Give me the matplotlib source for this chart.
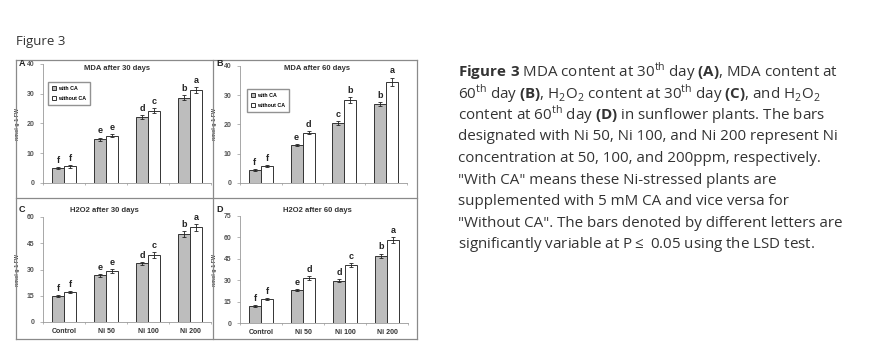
import matplotlib.pyplot as plt
import numpy as np
from matplotlib.lines import Line2D

plt.rcParams['font.family'] = ['Liberation Sans', 'DejaVu Sans']
plt.rcParams['mathtext.fontset'] = 'custom'
plt.rcParams['mathtext.rm'] = 'Open Sans'
plt.rcParams['mathtext.bf'] = 'Open Sans:bold'

categories = ['Control', 'Ni 50', 'Ni 100', 'Ni 200']

# panel A - MDA 30 days
a_with = [5.0, 14.7, 22.1, 28.7]
a_without = [5.6, 15.9, 24.3, 31.3]
a_err_with = [0.3, 0.5, 0.6, 0.9]
a_err_without = [0.4, 0.5, 0.9, 1.0]
a_let_with = ['f', 'e', 'd', 'b']
a_let_without = ['f', 'e', 'c', 'a']

# panel B - MDA 60 days
b_with = [4.5, 12.9, 20.5, 27.0]
b_without = [5.8, 17.2, 28.4, 34.5]
b_err_with = [0.3, 0.4, 0.7, 0.7]
b_err_without = [0.3, 0.6, 1.0, 1.5]
b_let_with = ['f', 'e', 'c', 'b']
b_let_without = ['f', 'd', 'b', 'a']

# panel C - H2O2 30 days
c_with = [15.0, 26.7, 33.5, 50.3]
c_without = [17.0, 29.3, 38.3, 54.0]
c_err_with = [0.5, 0.8, 0.8, 1.5]
c_err_without = [0.6, 1.2, 1.5, 2.0]
c_let_with = ['f', 'e', 'd', 'b']
c_let_without = ['f', 'e', 'c', 'a']

# panel D - H2O2 60 days
d_with = [12.0, 23.3, 29.5, 47.2]
d_without = [16.8, 31.3, 40.8, 58.2]
d_err_with = [0.5, 0.6, 1.0, 1.5]
d_err_without = [0.6, 1.3, 1.5, 2.0]
d_let_with = ['f', 'e', 'd', 'b']
d_let_without = ['f', 'd', 'c', 'a']

caption = [
    r'$\mathbf{Figure\ 3}$ MDA content at 30$^{\mathrm{th}}$ day $\mathbf{(A)}$, MDA content at',
    r'60$^{\mathrm{th}}$ day $\mathbf{(B)}$, H$_{2}$O$_{2}$ content at 30$^{\mathrm{th}}$ day $\mathbf{(C)}$, and H$_{2}$O$_{2}$',
    r'content at 60$^{\mathrm{th}}$ day $\mathbf{(D)}$ in sunflower plants. The bars',
    'designated with Ni 50, Ni 100, and Ni 200 represent Ni',
    'concentration at 50, 100, and 200ppm, respectively.',
    '"With CA" means these Ni-stressed plants are',
    'supplemented with 5 mM CA and vice versa for',
    '"Without CA". The bars denoted by different letters are',
    r'significantly variable at P$\leq$ 0.05 using the LSD test.',
]

W, H = 870, 357
fig = plt.figure(figsize=(W / 100, H / 100), dpi=100)


def fx(x):
    return x / W


def fy(y):
    return 1 - y / H


def panel(rect, wv, wov, ew, ewo, lw, lwo, ymax, yticks, title, title_xy,
          letter, letter_xy, xlabels, legend_rect):
    left, top, right, bottom = rect
    ax = fig.add_axes([fx(left), fy(bottom), fx(right - left), fy(top) - fy(bottom)])
    x = np.arange(len(categories))
    bw = 0.29
    ax.bar(x - bw / 2, wv, bw, color='#bdbdbd', edgecolor='#333333', linewidth=0.7,
           label='with CA', zorder=2)
    ax.bar(x + bw / 2, wov, bw, color='white', edgecolor='#333333', linewidth=0.7,
           label='without CA', zorder=2)
    ax.errorbar(x - bw / 2, wv, yerr=ew, fmt='none', ecolor='#222222', elinewidth=0.6,
                capsize=1.5, capthick=0.6, zorder=3)
    ax.errorbar(x + bw / 2, wov, yerr=ewo, fmt='none', ecolor='#222222', elinewidth=0.6,
                capsize=1.5, capthick=0.6, zorder=3)
    off = ymax * 0.02
    for i in range(len(x)):
        ax.text(x[i] - bw / 2, wv[i] + ew[i] + off, lw[i], ha='center', va='bottom',
                fontsize=6.5, fontweight='bold', color='#222222')
        ax.text(x[i] + bw / 2, wov[i] + ewo[i] + off, lwo[i], ha='center', va='bottom',
                fontsize=6.5, fontweight='bold', color='#222222')
    ax.set_xlim(-0.5, 3.5)
    ax.set_ylim(0, ymax)
    ax.set_yticks(yticks)
    ax.set_yticklabels([str(t) for t in yticks], fontsize=5, fontweight='bold', color='#555555')
    ax.set_xticks([-0.5, 0.5, 1.5, 2.5, 3.5], minor=True)
    ax.set_xticks(x)
    if xlabels:
        ax.set_xticklabels(categories, fontsize=5, fontweight='bold', color='#333333')
    else:
        ax.set_xticklabels([])
    ax.tick_params(axis='x', which='major', length=0, pad=4)
    ax.tick_params(axis='x', which='minor', length=1.5, width=0.5, color='#999999')
    ax.tick_params(axis='y', length=2, width=0.5, color='#999999', pad=4)
    for s in ['top', 'right']:
        ax.spines[s].set_visible(False)
    ax.spines['left'].set_color('#999999')
    ax.spines['bottom'].set_color('#999999')
    ax.spines['left'].set_linewidth(0.6)
    ax.spines['bottom'].set_linewidth(0.6)
    ax.set_ylabel('nmol g-1 FW', fontsize=3.8, fontweight='bold', color='#444444', labelpad=5)
    fig.text(fx(title_xy[0]), fy(title_xy[1]), title, ha='center', va='center',
             fontsize=5.5, fontweight='bold', color='#333333')
    fig.text(fx(letter_xy[0]), fy(letter_xy[1]), letter, ha='left', va='center',
             fontsize=6.5, fontweight='bold', color='#222222')
    if legend_rect is not None:
        ax.legend(loc='upper left', bbox_to_anchor=legend_rect, bbox_transform=fig.transFigure,
                  prop={'size': 3.8, 'weight': 'bold'}, frameon=True, fancybox=False,
                  edgecolor='#777777', handlelength=0.8, handleheight=0.8,
                  handletextpad=0.3, borderpad=0.8, labelspacing=0.9, borderaxespad=0)
    return ax


panel((43, 64, 211, 183), a_with, a_without, a_err_with, a_err_without, a_let_with,
      a_let_without, 40, [0, 10, 20, 30, 40], 'MDA after 30 days', (117, 68),
      'A', (19, 64), False, (fx(48), fy(82)))
panel((240, 66, 407, 183), b_with, b_without, b_err_with, b_err_without, b_let_with,
      b_let_without, 40, [0, 10, 20, 30, 40], 'MDA after 60 days', (317, 68),
      'B', (216, 64), False, (fx(247), fy(89)))
panel((43, 217, 211, 322), c_with, c_without, c_err_with, c_err_without, c_let_with,
      c_let_without, 60, [0, 15, 30, 45, 60], 'H2O2 after 30 days', (104, 210),
      'C', (19, 210), True, None)
panel((240, 216, 408, 323), d_with, d_without, d_err_with, d_err_without, d_let_with,
      d_let_without, 75, [0, 15, 30, 45, 60, 75], 'H2O2 after 60 days', (317, 210),
      'D', (216, 210), True, None)

# panel frame
frame = [((16, 417), (60, 60)), ((16, 417), (339, 339)), ((16, 16), (60, 339)),
         ((417, 417), (60, 339)), ((213, 213), (60, 339)), ((16, 417), (198, 198))]
for xs, ys in frame:
    fig.add_artist(Line2D([fx(xs[0]), fx(xs[1])], [fy(ys[0]), fy(ys[1])],
                          color='#8a8a8a', linewidth=0.9))

fig.text(fx(16), fy(42), 'Figure 3', ha='left', va='center', fontsize=9.5,
         family='Open Sans', color='#333333')

for i, line in enumerate(caption):
    fig.text(fx(458), fy(72 + i * 21.6), line, ha='left', va='center', fontsize=10.9,
             family='Open Sans', color='#333333')

fig.savefig('out.png', dpi=100)
